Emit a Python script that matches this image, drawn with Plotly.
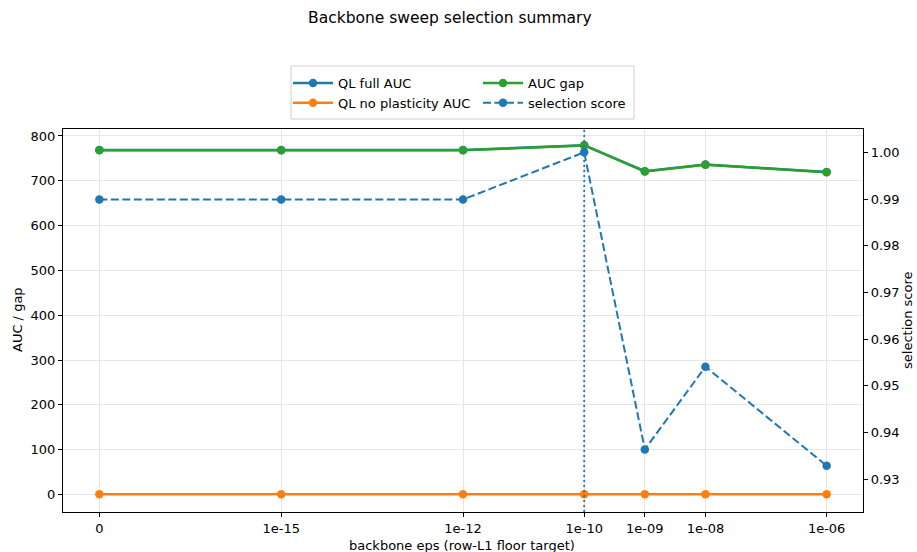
import math
import plotly.graph_objects as go

eps_values = [0, 1e-15, 1e-12, 1e-10, 1e-9, 1e-8, 1e-6]
tick_labels = ["0", "1e-15", "1e-12", "1e-10", "1e-09", "1e-08", "1e-06"]
ql_no_plasticity_auc = [0.5, 0.5, 0.5, 0.5, 0.5, 0.5, 0.5]
auc_gap = [768.0, 768.0, 768.0, 779.0, 721.0, 736.0, 719.0]
ql_full_auc = [g + n for g, n in zip(auc_gap, ql_no_plasticity_auc)]
selection_score = [0.9899, 0.9899, 0.9899, 1.0000, 0.9364, 0.9541, 0.9329]
selected_eps = 1e-10

# symlog-like position: zero drawn three decades below smallest positive eps
min_log = min(math.log10(e) for e in eps_values if e > 0)
def pos(e):
    return math.log10(e) if e > 0 else min_log - 3
x = [pos(e) for e in eps_values]

BLUE = "#1f77b4"
ORANGE = "#ff7f0e"
GREEN = "#2ca02c"
FONT = "DejaVu Sans"
FS = 13
MS = 8.5

fig = go.Figure()
fig.add_trace(go.Scatter(x=x, y=ql_full_auc, mode="lines+markers", name="QL full AUC",
                         line=dict(color=BLUE, width=2.5), marker=dict(size=MS, color=BLUE),
                         legend="legend"))
fig.add_trace(go.Scatter(x=x, y=ql_no_plasticity_auc, mode="lines+markers", name="QL no plasticity AUC",
                         line=dict(color=ORANGE, width=2.5), marker=dict(size=MS, color=ORANGE),
                         legend="legend"))
fig.add_trace(go.Scatter(x=x, y=auc_gap, mode="lines+markers", name="AUC gap",
                         line=dict(color=GREEN, width=2.5), marker=dict(size=MS, color=GREEN),
                         legend="legend2"))
fig.add_trace(go.Scatter(x=x, y=selection_score, mode="lines+markers", name="selection score",
                         line=dict(color=BLUE, width=2, dash="8px,3.5px"), marker=dict(size=MS, color=BLUE),
                         yaxis="y2", legend="legend2"))

xs = pos(selected_eps)
fig.add_shape(type="line", xref="x", yref="paper", x0=xs, x1=xs, y0=0, y1=1,
              line=dict(color=BLUE, width=1.8, dash="2px,3px"), layer="above")

W, H = 917, 552
ml, mr, mt, mb = 63, 54, 129, 40
pw, ph = W - ml - mr, H - mt - mb
def px_x(p):
    return (p - ml) / pw
def px_y(p):
    return (H - mb - p) / ph

fig.add_shape(type="rect", xref="paper", yref="paper",
              x0=px_x(291), x1=px_x(634), y0=px_y(119), y1=px_y(66),
              line=dict(color="#d0d0d0", width=1), fillcolor="rgba(255,255,255,0.8)", layer="above")

axis_common = dict(showline=True, linecolor="black", linewidth=1.2, ticks="outside",
                   ticklen=4, tickcolor="black", tickfont=dict(size=FS, color="black"),
                   zeroline=False, automargin=False)

fig.update_layout(
    width=W, height=H,
    margin=dict(l=ml, r=mr, t=mt, b=mb, autoexpand=False),
    paper_bgcolor="white", plot_bgcolor="white",
    font=dict(family=FONT, size=FS, color="black"),
    showlegend=True,
    xaxis=dict(tickvals=x, ticktext=tick_labels, range=[min_log - 3.6, -5.4],
               showgrid=True, gridcolor="#e6e6e6", mirror=True,
               **axis_common),
    yaxis=dict(range=[-39, 815.6], tickvals=[0, 100, 200, 300, 400, 500, 600, 700, 800],
               showgrid=True, gridcolor="#e6e6e6",
               **axis_common),
    yaxis2=dict(range=[0.9230, 1.00499], overlaying="y", side="right",
                tickvals=[0.93, 0.94, 0.95, 0.96, 0.97, 0.98, 0.99, 1.00],
                ticktext=["0.93", "0.94", "0.95", "0.96", "0.97", "0.98", "0.99", "1.00"],
                showgrid=False,
                **axis_common),
    legend=dict(x=px_x(288), y=px_y(68), xanchor="left", yanchor="top",
                bgcolor="rgba(0,0,0,0)", borderwidth=0, font=dict(size=FS),
                tracegroupgap=0, itemwidth=40),
    legend2=dict(x=px_x(478), y=px_y(68), xanchor="left", yanchor="top",
                 bgcolor="rgba(0,0,0,0)", borderwidth=0, font=dict(size=FS),
                 tracegroupgap=0, itemwidth=40),
    annotations=[
        dict(text="Backbone sweep selection summary", xref="paper", yref="paper",
             x=px_x(450), y=px_y(18), xanchor="center", yanchor="middle",
             showarrow=False, font=dict(size=15.5, color="black")),
        dict(text="backbone eps (row-L1 floor target)", xref="paper", yref="paper",
             x=px_x(462), y=px_y(545), xanchor="center", yanchor="middle",
             showarrow=False, font=dict(size=FS, color="black")),
        dict(text="AUC / gap", xref="paper", yref="paper",
             x=px_x(17), y=px_y(320), xanchor="center", yanchor="middle", textangle=-90,
             showarrow=False, font=dict(size=FS, color="black")),
        dict(text="selection score", xref="paper", yref="paper",
             x=px_x(907), y=px_y(320), xanchor="center", yanchor="middle", textangle=-90,
             showarrow=False, font=dict(size=FS, color="black")),
    ],
)

fig.write_html("out.html", config={"displayModeBar": False},
               post_script="document.body.style.margin='0px';document.body.style.overflow='hidden';")
